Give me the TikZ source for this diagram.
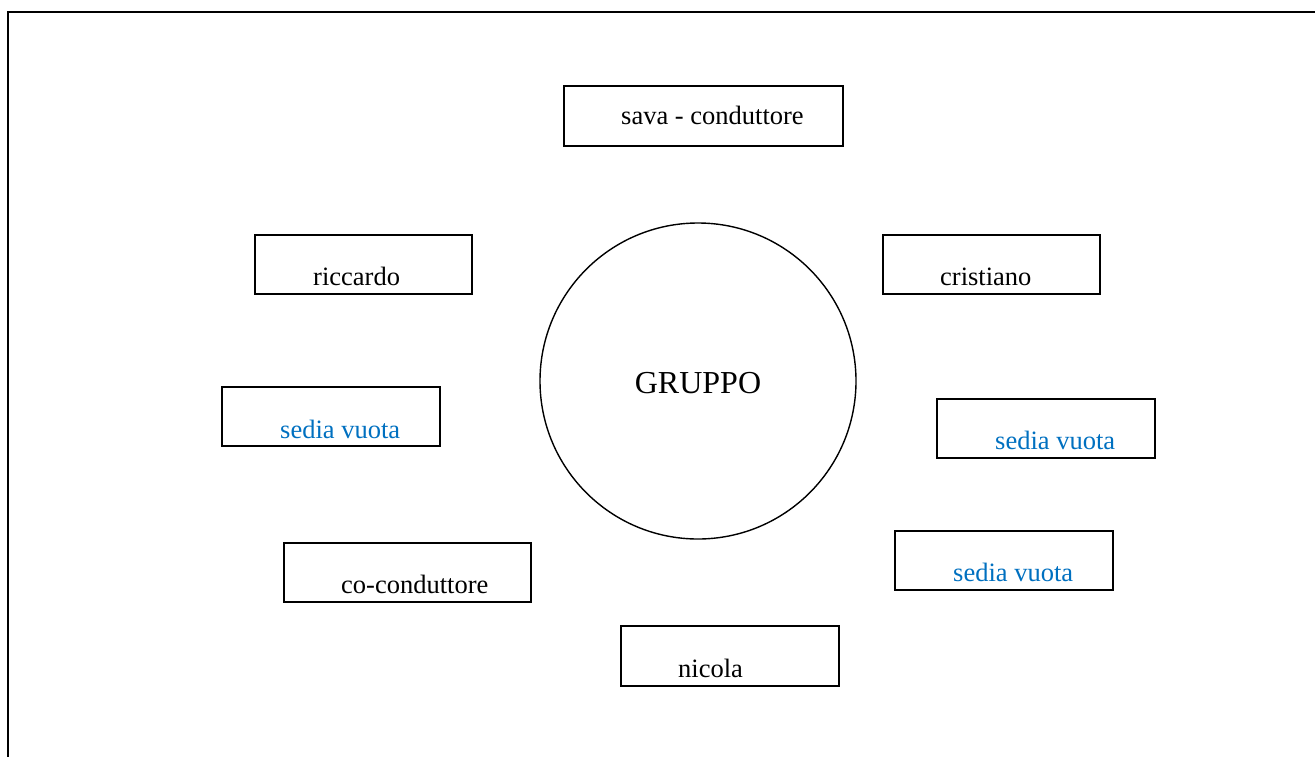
\documentclass[tikz,border=0pt]{standalone}
\usepackage{fontspec}
\setmainfont{Liberation Serif}
\definecolor{wordblue}{RGB}{0,112,192}
\begin{document}
\begin{tikzpicture}[x=1pt,y=-1pt,
  seat/.style={draw=black,line width=1.8pt,inner sep=0pt},
  lbl/.style={anchor=base west,inner sep=0pt,font=\fontsize{26.5}{30}\selectfont},
  empty/.style={lbl,text=wordblue}]
\useasboundingbox (0,0) rectangle (1315,756);
% page frame
\coordinate (fbl) at (8,757);
\coordinate (ftl) at (8,12);
\coordinate (ftr) at (1316,12);
\draw[line width=2.2pt] (fbl) -- (ftl) -- (ftr);
% boxes
\node[seat,minimum width=279pt,minimum height=60pt] (bsava) at (703.5,116) {};
\node[seat,minimum width=217pt,minimum height=59pt] (bric) at (363.5,264.5) {};
\node[seat,minimum width=217pt,minimum height=59pt] (bcri) at (991.5,264.5) {};
\node[seat,minimum width=218pt,minimum height=59pt] (bsl) at (331,416.5) {};
\node[seat,minimum width=218pt,minimum height=59pt] (bsr1) at (1046,428.5) {};
\node[seat,minimum width=218pt,minimum height=59pt] (bsr2) at (1004,560.5) {};
\node[seat,minimum width=247pt,minimum height=59pt] (bco) at (407.5,572.5) {};
\node[seat,minimum width=218pt,minimum height=60pt] (bnic) at (730,656) {};
% circle
\node[draw=black,line width=1.4pt,circle,minimum size=316pt,inner sep=0pt] (grp) at (698,381) {};
% texts
\node[lbl] (tsava) at (621,124) {sava - conduttore};
\node[lbl] (tric) at (313,285) {riccardo};
\node[lbl] (tcri) at (940,285) {cristiano};
\node[empty] (tsl) at (280,438) {sedia vuota};
\node[empty] (tsr1) at (995,449) {sedia vuota};
\node[empty] (tsr2) at (953,581) {sedia vuota};
\node[lbl] (tco) at (341,593) {co-conduttore};
\node[lbl] (tnic) at (678,677) {nicola};
\node[anchor=base,inner sep=0pt,font=\fontsize{32}{36}\selectfont] (tgrp) at (698,393) {GRUPPO};
\end{tikzpicture}
\end{document}
